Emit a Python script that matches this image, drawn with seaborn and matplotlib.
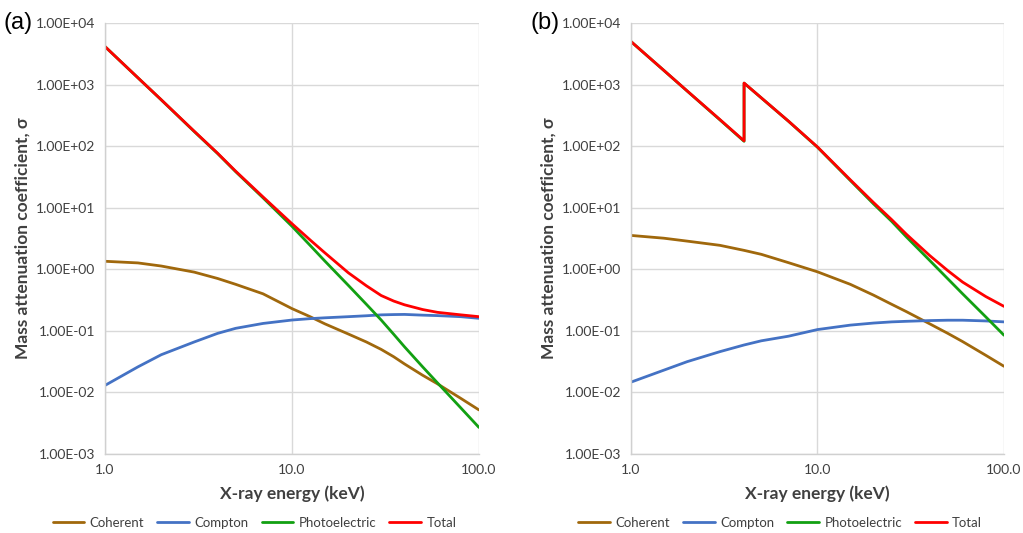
import numpy as np
import pandas as pd
import matplotlib
matplotlib.use("Agg")
import matplotlib.pyplot as plt
import matplotlib.ticker as mticker
import seaborn as sns

# --- data (keV, cm^2/g) ---
energy_a = [1, 1.5, 2, 3, 4, 5, 7, 10, 12.5, 15, 20, 25, 30, 35, 40, 50, 60, 80, 100]
coherent_a = [1.35, 1.27, 1.13, 0.90, 0.71, 0.57, 0.40, 0.23, 0.17, 0.13, 0.089,
              0.066, 0.050, 0.038, 0.029, 0.019, 0.0138, 0.0080, 0.0052]
compton_a = [0.013, 0.026, 0.041, 0.066, 0.091, 0.11, 0.132, 0.15, 0.158, 0.163, 0.17,
             0.176, 0.182, 0.184, 0.185, 0.18, 0.177, 0.17, 0.16]
photo_a = [4150, 1290, 565, 173, 76, 38.5, 14.5, 5.0, 2.45, 1.36, 0.55,
           0.27, 0.15, 0.088, 0.055, 0.026, 0.0143, 0.0056, 0.0027]
total_a = [4150, 1292, 567, 175, 77, 39.2, 15.0, 5.5, 3.0, 1.85, 0.88,
           0.54, 0.375, 0.305, 0.265, 0.222, 0.20, 0.182, 0.17]

# panel (b) has an absorption edge near 4 keV, so that energy appears twice
energy_b = [1, 1.5, 2, 3, 4.04, 4.04, 5, 7, 10, 15, 20, 25, 30, 40, 50, 60, 80, 100]
coherent_b = [3.55, 3.2, 2.87, 2.45, 2.03, 2.03, 1.75, 1.28, 0.91, 0.57, 0.38,
              0.27, 0.205, 0.13, 0.091, 0.067, 0.040, 0.0266]
compton_b = [0.0147, 0.023, 0.0316, 0.046, 0.059, 0.059, 0.069, 0.082, 0.105,
             0.124, 0.134, 0.14, 0.143, 0.147, 0.149, 0.149, 0.145, 0.14]
photo_b = [5000, 1700, 787, 267, 120, 1057, 607, 253, 96, 27.7, 11.5,
           6.0, 3.35, 1.39, 0.70, 0.40, 0.168, 0.085]
total_b = [5004, 1703, 790, 270, 122, 1059, 609, 254, 97, 28.4, 12.1,
           6.4, 3.7, 1.67, 0.95, 0.62, 0.36, 0.25]

series_names = ["Coherent", "Compton", "Photoelectric", "Total"]
colors = ["#A0680C", "#4472C4", "#12A012", "#FF0000"]


def to_long(energy, coh, comp, photo, total):
    frames = []
    for name, vals in zip(series_names, [coh, comp, photo, total]):
        frames.append(pd.DataFrame({"energy": energy, "mu": vals, "series": name}))
    return pd.concat(frames, ignore_index=True)


df_a = to_long(energy_a, coherent_a, compton_a, photo_a, total_a)
df_b = to_long(energy_b, coherent_b, compton_b, photo_b, total_b)

sns.set_style("white")
plt.rcParams["font.family"] = ["Lato", "DejaVu Sans"]

fig = plt.figure(figsize=(10.23, 5.33), dpi=100)
ax_a = fig.add_axes([0.1026, 0.1482, 0.3656, 0.8086])
ax_b = fig.add_axes([0.6168, 0.1482, 0.3646, 0.8086])

for ax, df, tag in [(ax_a, df_a, "(a)"), (ax_b, df_b, "(b)")]:
    sns.lineplot(data=df, x="energy", y="mu", hue="series", hue_order=series_names,
                 palette=colors, estimator=None, sort=False, linewidth=2.0, ax=ax)
    ax.set_xscale("log")
    ax.set_yscale("log")
    ax.set_xlim(1, 100)
    ax.set_ylim(1e-3, 1e4)
    ax.xaxis.set_major_locator(mticker.LogLocator(base=10, numticks=10))
    ax.yaxis.set_major_locator(mticker.LogLocator(base=10, numticks=10))
    ax.xaxis.set_minor_locator(mticker.NullLocator())
    ax.yaxis.set_minor_locator(mticker.NullLocator())
    ax.xaxis.set_major_formatter(mticker.FuncFormatter(lambda v, p: f"{v:.1f}"))
    ax.yaxis.set_major_formatter(mticker.FuncFormatter(lambda v, p: f"{v:.2E}"))
    ax.grid(True, which="major", color="#D9D9D9", linewidth=1.0)
    ax.set_axisbelow(True)
    for side in ["top", "right"]:
        ax.spines[side].set_visible(False)
    for side in ["left", "bottom"]:
        ax.spines[side].set_color("#D0D0D0")
        ax.spines[side].set_linewidth(1.0)
    ax.tick_params(axis="both", length=0, labelsize=10, colors="#404040", pad=7)
    ax.set_xlabel("X-ray energy (keV)", fontsize=12.5, fontweight="bold",
                  color="#404040", labelpad=7)
    ax.set_ylabel("Mass attenuation coefficient, σ", fontsize=12.5, fontweight="bold",
                  color="#404040", labelpad=4)
    ax.legend(loc="center", bbox_to_anchor=(0.40, -0.160), ncol=4, frameon=False,
              fontsize=9.5, handlelength=2.4, handletextpad=0.4, columnspacing=1.0,
              labelcolor="#404040")
    ax.text(-0.27, 1.0, tag, transform=ax.transAxes, fontsize=17,
            family="Liberation Sans", ha="left", va="center", color="black")

fig.savefig("out.png", dpi=100)
